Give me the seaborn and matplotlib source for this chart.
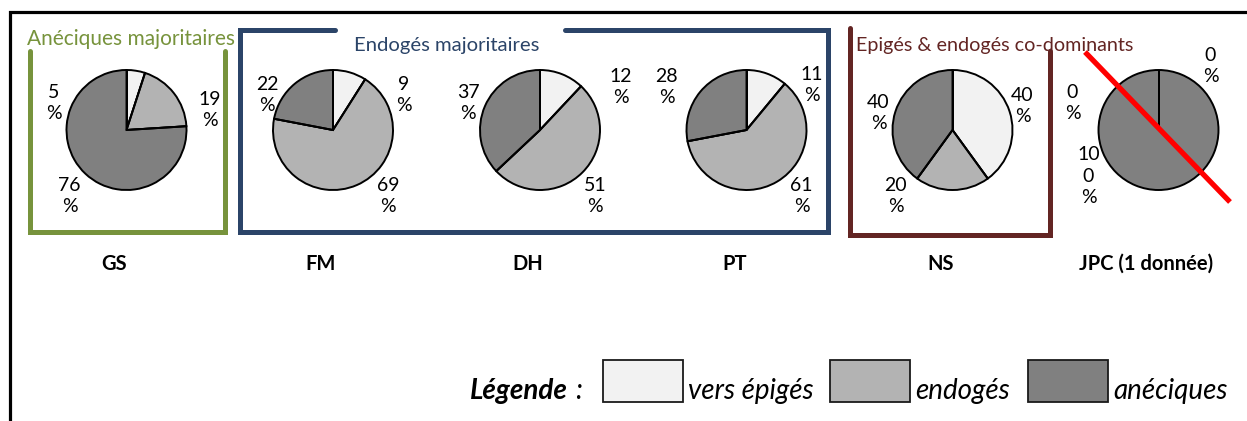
import numpy as np
import matplotlib
matplotlib.use("Agg")
import matplotlib.pyplot as plt
from matplotlib.patches import Rectangle
import seaborn as sns

# data
stations = ["GS", "FM", "DH", "PT", "NS", "JPC (1 donnée)"]
epiges = [5, 9, 12, 11, 40, 0]
endoges = [19, 69, 51, 61, 20, 0]
aneciques = [76, 22, 37, 28, 40, 100]
groups = ["vers épigés", "endogés", "anéciques"]
box_titles = ["Anéciques majoritaires", "Endogés majoritaires", "Epigés & endogés co-dominants"]

sns.set_theme(style="white")
plt.rcParams["font.family"] = ["Lato", "DejaVu Sans"]
colors = sns.color_palette(["#f2f2f2", "#b3b3b3", "#808080"])

W, H = 1247, 421


def Y(y):
    return H - y


fig = plt.figure(figsize=(W / 100, H / 100), dpi=100)
ax = fig.add_axes([0, 0, 1, 1])

# pie centres (px) and label offsets (number line centre) per wedge
centres = [126.5, 333, 540, 746.5, 952.5, 1158.5]
cy, r = 130, 60
label_offsets = [
    [(-73, -40), (83, -33), (-57, 53)],
    [(71, -48), (55, 53), (-66, -48)],
    [(81, -56), (55, 53), (-72, -40)],
    [(65, -58), (55, 53), (-80, -56)],
    [(70, -37), (-57, 53), (-74, -30)],
    [(52, -77), (-86, -40), (-70, 20)],
]

for i, st in enumerate(stations):
    vals = [epiges[i], endoges[i], aneciques[i]]
    cx = centres[i]
    ax.pie(vals, colors=colors, startangle=90, counterclock=False,
           center=(cx, Y(cy)), radius=r,
           wedgeprops=dict(edgecolor="black", linewidth=1.4))
    # wedge boundaries (keeps the edge of empty slices visible)
    cum = np.cumsum([0] + vals)
    for a in np.deg2rad(90 - 360 * cum[:-1] / cum[-1]):
        ax.plot([cx, cx + r * np.cos(a)], [Y(cy), Y(cy) + r * np.sin(a)],
                color="black", lw=1.4, solid_capstyle="butt")
    for v, (dx, dy) in zip(vals, label_offsets[i]):
        s = str(v)
        lines = [s[k:k + 2] for k in range(0, len(s), 2)] + ["%"]
        txt = "\n".join(lines)
        ax.text(cx + dx, Y(cy + dy + 13 * (len(lines) - 1)), txt,
                ha="center", va="center", fontsize=14, linespacing=1.3,
                color="black")
    ax.text(cx - 12, Y(264), st, ha="center", va="center",
            fontsize=14.5, fontweight="bold", color="black")

ax.set_xlim(0, W)
ax.set_ylim(0, H)
ax.set_aspect("auto")
ax.axis("off")

# outer frame
ax.plot([10, 10, W + 5], [Y(H + 5), Y(12), Y(12)], color="black", lw=2.3,
        solid_capstyle="butt", solid_joinstyle="miter")

green, blue, dred = "#77933c", "#2b4468", "#632523"
lw_box = 3.6
ax.plot([30, 30, 225, 225], [Y(51), Y(232), Y(232), Y(51)], color=green,
        lw=lw_box, solid_joinstyle="miter")
ax.plot([335, 240, 240, 828, 828, 565], [Y(30), Y(30), Y(232), Y(232), Y(30), Y(30)],
        color=blue, lw=lw_box, solid_joinstyle="miter")
ax.plot([850, 850, 1050, 1050], [Y(28), Y(235), Y(235), Y(51)], color=dred,
        lw=lw_box, solid_joinstyle="miter")

# clipped box titles (baseline y, clip y, size)
title_specs = [
    (27, 45, "left", green, 43.5, 15.0),
    (447, 51, "center", blue, 49, 14.6),
    (856, 51, "left", dred, 49.5, 14.2),
]
for t, (x, y, ha, c, clip_y, fs) in zip(box_titles, title_specs):
    tx = ax.text(x, Y(y), t, ha=ha, va="baseline", fontsize=fs, color=c)
    tx.set_clip_path(Rectangle((0, Y(clip_y)), W, 60, transform=ax.transData))

# red strike line over JPC
ax.plot([1085, 1230], [Y(52), Y(202)], color="#ff0000", lw=3.8,
        solid_capstyle="butt")

# legend
ax.text(470, Y(399), "Légende", ha="left", va="baseline", fontsize=20,
        fontweight="bold", fontstyle="italic", color="black")
ax.text(575, Y(399), ":", ha="left", va="baseline", fontsize=20,
        fontstyle="italic", color="black")
box_x = [603, 830, 1028]
for bx, c, g in zip(box_x, colors, groups):
    ax.add_patch(Rectangle((bx, Y(402)), 80, 42, facecolor=c, edgecolor="#1a1a1a",
                           lw=1.3))
    ax.text(bx + 85, Y(399), g, ha="left", va="baseline", fontsize=20,
            fontstyle="italic", color="black")

fig.savefig("out.png", dpi=100, facecolor="white")
